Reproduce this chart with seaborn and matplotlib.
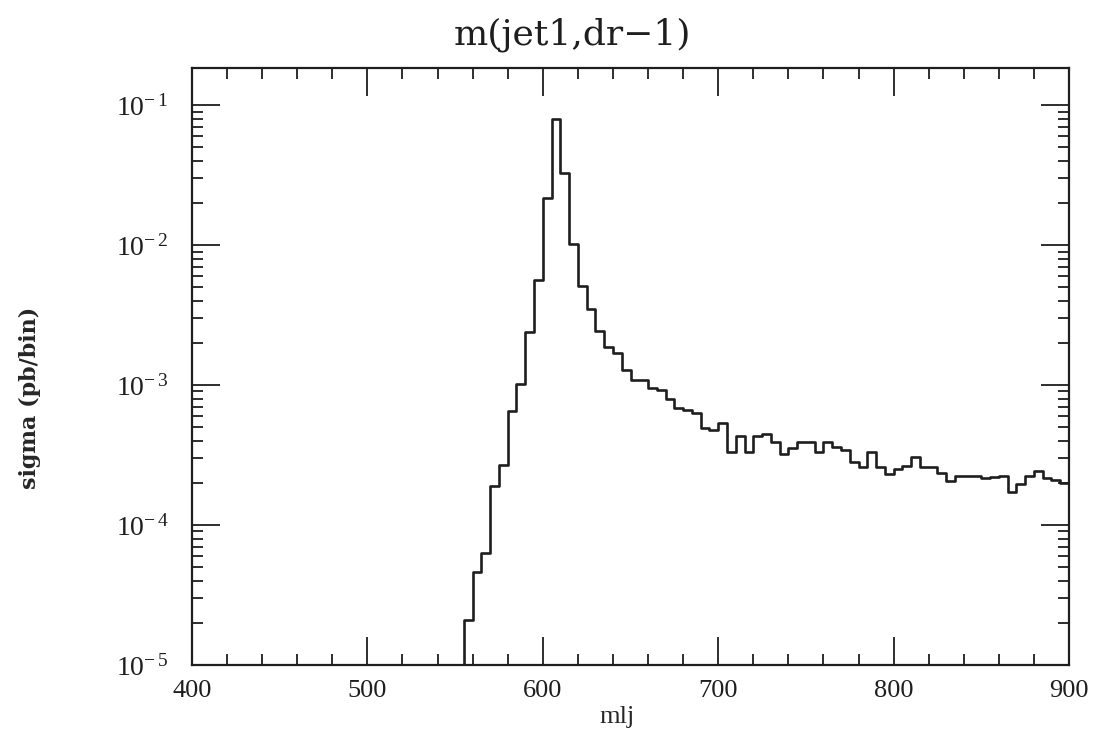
import numpy as np
import pandas as pd
import matplotlib
matplotlib.use("Agg")
import matplotlib.pyplot as plt
import seaborn as sns
from matplotlib.ticker import MultipleLocator, LogLocator, FuncFormatter

# bin edges of the mlj histogram (5 GeV bins)
bin_lo = 400
bin_hi = 900
bin_width = 5

# sigma per bin, 400 -> 555 empty
empty_bins = [0.0] * 31
sigma_vals = [
    2.1e-5, 4.6e-5, 6.3e-5, 1.9e-4, 2.7e-4, 6.5e-4, 1.02e-3, 2.4e-3, 5.6e-3, 2.18e-2,
    7.9e-2, 3.25e-2, 1.02e-2, 5.1e-3, 3.5e-3, 2.44e-3, 1.86e-3, 1.7e-3, 1.29e-3, 1.09e-3,
    1.09e-3, 9.6e-4, 9.2e-4, 7.9e-4, 6.8e-4, 6.6e-4, 6.3e-4, 4.9e-4, 4.8e-4, 5.4e-4,
    3.3e-4, 4.3e-4, 3.3e-4, 4.3e-4, 4.5e-4, 3.9e-4, 3.2e-4, 3.55e-4, 3.9e-4, 3.9e-4,
    3.3e-4, 3.9e-4, 3.6e-4, 3.45e-4, 2.8e-4, 2.6e-4, 3.3e-4, 2.6e-4, 2.3e-4, 2.5e-4,
    2.65e-4, 3.05e-4, 2.6e-4, 2.6e-4, 2.37e-4, 2.07e-4, 2.25e-4, 2.25e-4, 2.25e-4, 2.16e-4,
    2.2e-4, 2.25e-4, 1.73e-4, 1.96e-4, 2.25e-4, 2.44e-4, 2.16e-4, 2.1e-4, 2.0e-4,
]
ymin, ymax = 1e-5, 0.184

edges = np.arange(bin_lo, bin_hi + bin_width, bin_width)
df = pd.DataFrame({
    "mlj": edges[:-1] + bin_width / 2,
    "sigma": empty_bins + sigma_vals,
})

sns.set_style("ticks")
plt.rcParams['font.family'] = ['Liberation Serif', 'DejaVu Serif']
plt.rcParams['mathtext.fontset'] = 'custom'
plt.rcParams['mathtext.rm'] = 'Liberation Serif'
plt.rcParams['mathtext.it'] = 'Liberation Serif:italic'
plt.rcParams['mathtext.bf'] = 'Liberation Serif:bold'

fig = plt.figure(figsize=(11.13, 7.40), dpi=100)
ax = fig.add_axes([0.1725, 0.1014, 0.7880, 0.8066])

# empty bins sit on the lower edge of the frame
df["sigma_plot"] = df["sigma"].clip(lower=ymin)
sns.histplot(data=df, x="mlj", weights="sigma_plot", binwidth=bin_width,
             binrange=(bin_lo, bin_hi), element="step",
             fill=False, color="#1e1e1e", linewidth=1.9, ax=ax)

ax.set_yscale("log")
ax.set_xlim(bin_lo, bin_hi)
ax.set_ylim(ymin, ymax)

ax.xaxis.set_major_locator(MultipleLocator(100))
ax.xaxis.set_minor_locator(MultipleLocator(20))
ax.yaxis.set_major_locator(LogLocator(base=10, numticks=10))
ax.yaxis.set_minor_locator(LogLocator(base=10, subs=np.arange(2, 10), numticks=20))

def pow_label(v, pos):
    e = int(round(np.log10(v)))
    return r"$10^{-\,%d}$" % (-e) if e < 0 else r"$10^{%d}$" % e

ax.yaxis.set_major_formatter(FuncFormatter(pow_label))

ax.tick_params(which="both", direction="in", top=True, right=True, width=1.3, colors="#1e1e1e")
ax.tick_params(which="major", length=20, labelsize=19)
ax.tick_params(which="minor", length=8)
ax.tick_params(axis="x", which="major", pad=11)
ax.tick_params(axis="y", which="major", pad=17, labelsize=20)
for s in ax.spines.values():
    s.set_linewidth(1.6)
    s.set_color("#1e1e1e")

fig.text(0.514, 0.953, "m(jet1,dr\u22121)", fontsize=26, family="DejaVu Serif",
         ha="center", va="center", color="#1e1e1e")
ax.set_xlabel("mlj", fontsize=19)
ax.xaxis.set_label_coords(0.485, -0.068)
ax.set_ylabel("sigma (pb/bin)", fontsize=16, fontweight="bold", family="DejaVu Serif")
ax.yaxis.set_label_coords(-0.172, 0.447)

fig.savefig("out.png", dpi=100)
